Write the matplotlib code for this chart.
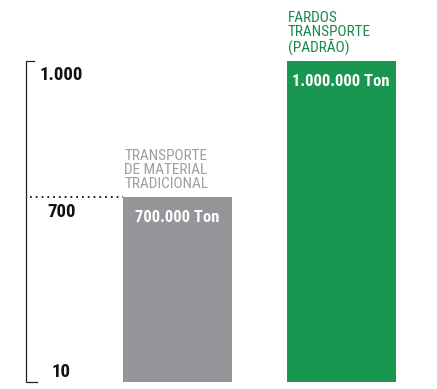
import matplotlib
matplotlib.use("Agg")
import matplotlib.pyplot as plt
from matplotlib.transforms import blended_transform_factory

# Data
categories = ["TRANSPORTE\nDE MATERIAL\nTRADICIONAL", "FARDOS\nTRANSPORTE\n(PADRÃO)"]
values = [700000, 1000000]
value_labels = ["700.000 Ton", "1.000.000 Ton"]
scale_ticks = [1000000, 700000]
scale_tick_labels = ["1.000", "700"]
floor_label = "10"

# Style
bar_colors = ["#939598", "#19964f"]
label_colors = ["#9d9ea1", "#178a4c"]
FONT = ["Roboto Condensed", "DejaVu Sans"]
STRETCH = "condensed"
floor_value = 292000

fig = plt.figure(figsize=(4.37, 3.89), dpi=100)
ax = fig.add_axes([0, 0, 1, 1])
ax.set_xlim(-1.086, 1.587)
ax.set_ylim(276500, 1134500)
ax.axis("off")

xs = list(range(len(values)))
heights = [v - floor_value for v in values]
ax.bar(xs, heights, bottom=floor_value, width=0.667, color=bar_colors, zorder=2)

# value labels inside bars
for x, v, txt in zip(xs, values, value_labels):
    ax.annotate(txt, (x, v), xytext=(0, -14.5), textcoords="offset points",
                ha="center", va="center", color="white", fontsize=12,
                fontweight="bold", family=FONT, fontstretch=STRETCH, zorder=3)

# category labels above bars
for x, v, txt, c in zip(xs, values, categories, label_colors):
    ax.annotate(txt, (x - 0.667 / 2, v), xytext=(1, 6.5), textcoords="offset points",
                ha="left", va="baseline", color=c, fontsize=11,
                linespacing=1.0, family=FONT, fontstretch=STRETCH)

# scale bracket on the left
bt = blended_transform_factory(ax.transAxes, ax.transData)
xb = 26 / 437
ax.plot([34 / 437, xb, xb, 37 / 437], [scale_ticks[0], scale_ticks[0], floor_value, floor_value],
        transform=bt, color="#222222", lw=0.9, solid_joinstyle="miter", zorder=1)

# dotted reference line at the lower bar
ax.plot([30 / 437, 123 / 437], [values[0], values[0]], transform=bt,
        color="#111111", lw=1.3, linestyle=(0, (1, 2.2)), zorder=1)

# scale labels
for v, txt, dx, dy in zip(scale_ticks, scale_tick_labels, [40 / 437, 47 / 437], [-10, -11]):
    ax.annotate(txt, (dx, v), xycoords=bt, xytext=(0, dy), textcoords="offset points",
                ha="left", va="center", fontsize=13.5, fontweight="bold",
                color="#111111", family=FONT, fontstretch=STRETCH)
ax.annotate(floor_label, (52 / 437, floor_value), xycoords=bt, xytext=(0, 7.5),
            textcoords="offset points", ha="left", va="center", fontsize=13.5,
            fontweight="bold", color="#111111", family=FONT, fontstretch=STRETCH)

fig.savefig("out.png", dpi=100)
